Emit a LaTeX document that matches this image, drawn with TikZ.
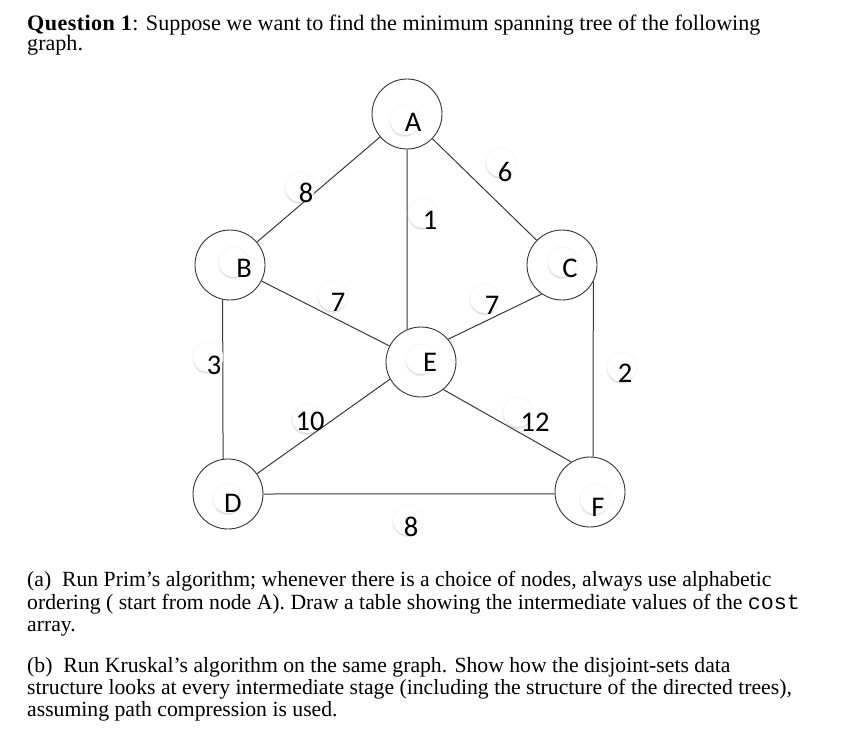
\documentclass[tikz,border=0pt]{standalone}
\usepackage{fontspec}
\setmainfont{Liberation Serif}
\setmonofont{Liberation Mono}
\newfontfamily\calib{Carlito}
\usetikzlibrary{shadows}
\newcommand\wlab[6]{%
  \node[bub] (#1b) at (#4,#5) {};
  \node[lab] (#1) at (#2,#3) {#6};}
\begin{document}
\begin{tikzpicture}[x=1pt,y=-1pt,
  vtx/.style={circle, draw=black!80, line width=0.9pt, minimum size=70pt, inner sep=0pt},
  edge/.style={draw=black!78, line width=1pt},
  bub/.style={circle, fill=white, draw=black!6, line width=0.4pt, minimum size=30pt, inner sep=0pt,
    circular drop shadow={shadow scale=1.04, shadow xshift=-0.8pt, shadow yshift=-1.4pt, opacity=0.35}},
  lab/.style={inner sep=0pt, font=\calib\fontsize{28.5}{28.5}\selectfont, text=black},
  txt/.style={anchor=base west, inner sep=0pt, font=\fontsize{21.7}{22}\selectfont},
  qtxt/.style={anchor=base west, inner sep=0pt, font=\fontsize{22.1}{22}\selectfont}]
\useasboundingbox (0,0) rectangle (848,741);

% vertices
\node[vtx] (A) at (407,114) {};
\node[vtx] (B) at (230,265) {};
\node[vtx] (C) at (562,265) {};
\node[vtx] (D) at (228,494) {};
\node[vtx] (E) at (421,362) {};
\node[vtx] (F) at (590,492) {};

% edges
\draw[edge] (A) -- (B);
\draw[edge] (A) -- (C);
\draw[edge] (A.south) -- (E.113);
\draw[edge] (B) -- (E);
\draw[edge] (B.258) -- (D.98);
\draw[edge] (E.40) -- (C.235);
\draw[edge] (E.209) -- (D.35);
\draw[edge] (E.-51) -- (F.122);
\draw[edge] (C.-28) -- (F.85);
\draw[edge] (D.east) -- (F.183);

% vertex letters
\wlab{lA}{413}{122}{405}{120}{A}
\wlab{lB}{244}{268}{234}{262}{B}
\wlab{lC}{570}{268}{563}{262}{C}
\wlab{lD}{233}{503}{228}{498}{D}
\wlab{lE}{430}{362}{421}{359}{E}
\wlab{lF}{598}{507}{595}{499}{F}

% weights
\wlab{wAB}{306}{193}{300}{187}{8}
\wlab{wAE}{430}{220}{423}{213}{1}
\wlab{wAC}{505}{172}{501}{162}{6}
\wlab{wBE}{338}{302}{333}{296}{7}
\wlab{wEC}{492}{305}{485}{298}{7}
\wlab{wBD}{214}{365}{208}{357}{3}
\wlab{wED}{310}{421}{307}{418}{10}
\wlab{wEF}{535}{422}{518}{412}{12}
\wlab{wCF}{625}{373}{622}{367}{2}
\wlab{wDF}{411}{527}{408}{520}{8}

% text
\node[qtxt] (t1) at (27,31) {\textbf{\addfontfeature{LetterSpace=2}Question 1}: Suppose we want to find the minimum spanning tree of the following};
\node[qtxt] (t2) at (27,51) {graph.};
\node[txt] (a1) at (27,586) {(a)\hspace{0.5em}Run Prim’s algorithm; whenever there is a choice of nodes, always use alphabetic};
\node[txt] (a2) at (27,609) {ordering ( start from node A). Draw a table showing the intermediate values of the \texttt{cost}};
\node[txt] (a3) at (27,631) {array.};
\node[txt] (b1) at (27,672) {(b)\hspace{0.5em}Run Kruskal’s algorithm on the same graph. Show how the disjoint-sets data};
\node[txt] (b2) at (27,694) {structure looks at every intermediate stage (including the structure of the directed trees),};
\node[txt] (b3) at (27,716) {assuming path compression is used.};
\end{tikzpicture}
\end{document}
